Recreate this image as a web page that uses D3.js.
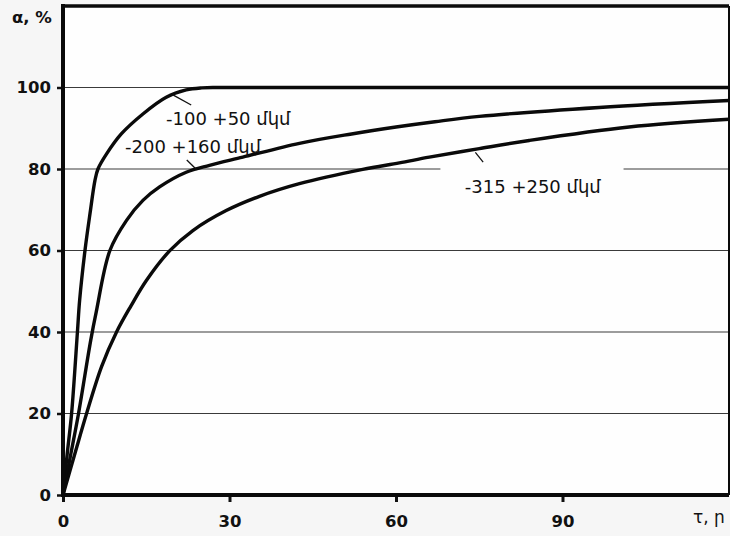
<!DOCTYPE html>
<html>
<head>
<meta charset="utf-8">
<script src="https://cdn.jsdelivr.net/npm/d3@7"></script>
<style>
  html, body { margin: 0; padding: 0; background: #f6f6f6; }
  svg { display: block; }
  text { font-family: "DejaVu Sans", "Liberation Sans", sans-serif; fill: #111; }
</style>
</head>
<body>
<script>
// time τ in minutes, extraction α in %
var tFine = [0, 0.75, 1.55, 2.6, 3.0, 3.96, 4.86, 5.76, 6.3, 7.85, 10.5, 14.4, 18.6, 22.2, 25, 28, 60, 120];
var aFine = [0, 10, 20, 40, 47.8, 60, 69, 77.2, 80, 83.7, 88.6, 93.5, 97.6, 99.4, 99.9, 100, 100, 100];

var tMid = [0, 1.4, 2.8, 5.0, 6.0, 8.45, 11.45, 14.4, 17.4, 22.2, 26.4, 32.4, 42.6, 52, 60, 67, 75, 96.6, 120];
var aMid = [0, 10, 20, 38, 45, 60, 67.4, 72.3, 75.6, 79.2, 80.9, 82.9, 86.3, 88.6, 90.3, 91.6, 92.9, 95.1, 96.8];

var tCoarse = [0, 2.15, 4.25, 6.95, 9.65, 12.2, 15.05, 19.2, 23.4, 29.4, 35.4, 42.6, 54, 60.6, 66, 75, 84, 102, 120];
var aCoarse = [0, 10.2, 20, 31.5, 40, 46.3, 52.7, 59.9, 64.9, 69.8, 73.3, 76.4, 79.9, 81.5, 82.9, 85, 87, 90.3, 92.2];

var seriesNames = ["-100 +50 մկմ", "-200 +160 մկմ", "-315 +250 մկմ"];
var xTicks = [0, 30, 60, 90];
var yTicks = [0, 20, 40, 60, 80, 100];

var series = [
    {name: seriesNames[0], t: tFine, a: aFine},
    {name: seriesNames[1], t: tMid, a: aMid},
    {name: seriesNames[2], t: tCoarse, a: aCoarse}
];

var W = 730, H = 536;
var box = {left: 63, right: 729, top: 6, bottom: 495};

var svg = d3.select("body").append("svg")
    .attr("width", W)
    .attr("height", H);

var x = d3.scaleLinear().domain([0, 120]).range([box.left, box.right]);
var y = d3.scaleLinear().domain([0, 120]).range([box.bottom, box.top]);

// plot background
svg.append("rect")
    .attr("x", box.left).attr("y", box.top)
    .attr("width", box.right - box.left).attr("height", box.bottom - box.top)
    .style("fill", "#fefefe");

// horizontal grid
svg.append("g")
    .selectAll("line")
    .data(yTicks.filter(d => d > 0))
    .enter().append("line")
    .attr("x1", box.left).attr("x2", box.right)
    .attr("y1", d => y(d)).attr("y2", d => y(d))
    .style("stroke", "#3a3a3a")
    .style("stroke-width", 1.1);

// y axis
var yAxis = svg.append("g")
    .attr("transform", "translate(" + box.left + ",0)")
    .call(d3.axisLeft(y).tickValues(yTicks).tickSize(6).tickPadding(6));
yAxis.select(".domain").remove();
yAxis.selectAll(".tick line").style("stroke", "#111").style("stroke-width", 2.5);
yAxis.selectAll(".tick text")
    .style("font-family", "DejaVu Sans")
    .style("font-size", "16.5px").style("font-weight", "bold");

// x axis
var xAxis = svg.append("g")
    .attr("transform", "translate(0," + box.bottom + ")")
    .call(d3.axisBottom(x).tickValues(xTicks).tickSize(7).tickPadding(13));
xAxis.select(".domain").remove();
xAxis.selectAll(".tick line").style("stroke", "#111").style("stroke-width", 3);
xAxis.selectAll(".tick text")
    .style("font-family", "DejaVu Sans")
    .style("font-size", "16.5px").style("font-weight", "bold");

// curves
var line = d3.line()
    .x(d => x(d[0]))
    .y(d => y(d[1]))
    .curve(d3.curveCatmullRom.alpha(0.5));

svg.append("g")
    .selectAll("path")
    .data(series)
    .enter().append("path")
    .attr("d", s => line(s.t.map((t, i) => [t, s.a[i]])))
    .style("fill", "none")
    .style("stroke", "#0a0a0a")
    .style("stroke-width", 3.4)
    .style("stroke-linejoin", "round");

// frame
svg.append("line").attr("x1", box.left).attr("x2", box.left).attr("y1", box.top - 2).attr("y2", box.bottom + 2)
    .style("stroke", "#0a0a0a").style("stroke-width", 4);
svg.append("line").attr("x1", box.left).attr("x2", box.right).attr("y1", box.bottom).attr("y2", box.bottom)
    .style("stroke", "#0a0a0a").style("stroke-width", 4);
svg.append("line").attr("x1", box.left).attr("x2", box.right).attr("y1", box.top).attr("y2", box.top)
    .style("stroke", "#0a0a0a").style("stroke-width", 3.5);
svg.append("line").attr("x1", box.right).attr("x2", box.right).attr("y1", box.top).attr("y2", box.bottom)
    .style("stroke", "#0a0a0a").style("stroke-width", 2);

// curve labels with leader strokes
var labels = [
    {text: seriesNames[0], lx: 18.56, ly: 90.8, ax: 19.8, ay: 98.2, bx: 23.1, by: 95.7, box: false},
    {text: seriesNames[1], lx: 11.17, ly: 84.0, ax: 22.3, ay: 82.2, bx: 24.1, by: 79.8, box: false},
    {text: seriesNames[2], lx: 72.4, ly: 74.1, ax: 74.3, ay: 84.1, bx: 75.7, by: 81.7, box: true}
];

labels.forEach(function(l) {
    var g = svg.append("g");
    if (l.box) {
        g.append("rect")
            .attr("x", x(68)).attr("y", y(81.3))
            .attr("width", x(101) - x(68)).attr("height", y(71) - y(81.3))
            .style("fill", "#fefefe");
    }
    g.append("text")
        .attr("x", x(l.lx)).attr("y", y(l.ly))
        .style("font-size", "18px")
        .text(l.text);
    g.append("line")
        .attr("x1", x(l.ax)).attr("y1", y(l.ay))
        .attr("x2", x(l.bx)).attr("y2", y(l.by))
        .style("stroke", "#111").style("stroke-width", 1.3);
});

// axis titles
svg.append("text")
    .attr("x", 12).attr("y", 23)
    .style("font-size", "16.5px").style("font-weight", "bold")
    .text("α, %");

svg.append("text")
    .attr("x", 693).attr("y", 523)
    .style("font-size", "17px")
    .text("τ, ր");
</script>
</body>
</html>
